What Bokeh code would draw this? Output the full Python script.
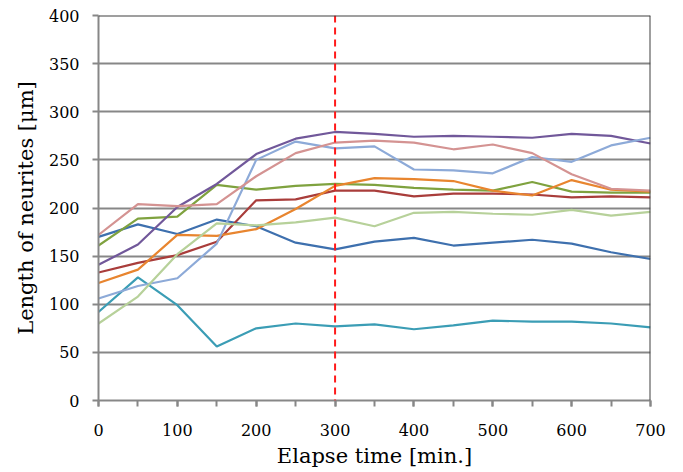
from bokeh.plotting import figure
from bokeh.models import Range1d, FixedTicker, Span
from bokeh.embed import file_html
from bokeh.resources import INLINE

time_min = [0, 50, 100, 150, 200, 250, 300, 350, 400, 450, 500, 550, 600, 650, 700]

s_blue = [170, 183, 173, 188, 181, 164, 157, 165, 169, 161, 164, 167, 163, 154, 147]
s_red = [133, 143, 151, 165, 208, 209, 218, 218, 212, 215, 215, 214, 211, 212, 211]
s_green = [161, 189, 191, 224, 219, 223, 225, 224, 221, 219, 218, 227, 217, 216, 216]
s_purple = [141, 162, 201, 225, 256, 272, 279, 277, 274, 275, 274, 273, 277, 275, 267]
s_teal = [92, 128, 99, 56, 75, 80, 77, 79, 74, 78, 83, 82, 82, 80, 76]
s_orange = [122, 136, 172, 171, 178, 199, 223, 231, 230, 228, 218, 213, 229, 219, 217]
s_lblue = [106, 119, 127, 163, 250, 269, 262, 264, 240, 239, 236, 253, 248, 265, 273]
s_pink = [172, 204, 202, 204, 233, 257, 268, 270, 268, 261, 266, 257, 235, 220, 218]
s_lgreen = [80, 108, 152, 184, 182, 185, 190, 181, 195, 196, 194, 193, 198, 192, 196]

series = [
    (s_blue, "#3E70AE"),
    (s_red, "#A93D3B"),
    (s_green, "#7FA23F"),
    (s_purple, "#71589A"),
    (s_teal, "#3B9DB5"),
    (s_orange, "#E8852F"),
    (s_lblue, "#8DAAD8"),
    (s_pink, "#D49392"),
    (s_lgreen, "#B7D19A"),
]

marker_time = 300
x_tick_labels = [0, 100, 200, 300, 400, 500, 600, 700]
y_ticks = [0, 50, 100, 150, 200, 250, 300, 350, 400]

FONT = "DejaVu Serif"
GRID = "#878787"

p = figure(width=675, height=470, output_backend="svg", toolbar_location=None,
           x_range=Range1d(0, 700), y_range=Range1d(0, 400),
           min_border_left=98, min_border_right=25, min_border_top=15, min_border_bottom=70)
p.outline_line_color = None
p.background_fill_color = "white"

for ys, c in series:
    p.line(time_min, ys, line_color=c, line_width=2.2)

p.add_layout(Span(location=marker_time, dimension="height", line_color="#FF1A1A",
                  line_width=2, line_dash="7 5"))
p.add_layout(Span(location=400, dimension="width", line_color="#404040", line_width=2))
p.add_layout(Span(location=700, dimension="height", line_color="#404040", line_width=2))

p.xaxis.ticker = FixedTicker(ticks=x_tick_labels, minor_ticks=list(range(0, 701, 50)))
p.yaxis.ticker = FixedTicker(ticks=y_ticks, minor_ticks=[])
p.xgrid.grid_line_color = None
p.ygrid.grid_line_color = GRID
p.ygrid.grid_line_width = 2

for ax in (p.xaxis, p.yaxis):
    ax.axis_line_color = GRID
    ax.axis_line_width = 2
    ax.major_tick_line_color = GRID
    ax.major_tick_line_width = 2
    ax.minor_tick_line_color = GRID
    ax.minor_tick_line_width = 2
    ax.major_tick_in = 0
    ax.major_tick_out = 6
    ax.minor_tick_in = 0
    ax.minor_tick_out = 6
    ax.major_label_text_font = FONT
    ax.major_label_text_font_size = "16px"
    ax.major_label_text_color = "black"
    ax.axis_label_text_font = FONT
    ax.axis_label_text_font_size = "21px"
    ax.axis_label_text_font_style = "normal"
    ax.axis_label_text_color = "black"

p.yaxis.minor_tick_line_color = None
p.xaxis.axis_label = "Elapse time [min.]"
p.yaxis.axis_label = "Length of neurites [μm]"
p.xaxis.major_label_standoff = 17
p.yaxis.major_label_standoff = 13
p.xaxis.axis_label_standoff = 5
p.yaxis.axis_label_standoff = 8

open("out.html", "w").write(file_html(p, INLINE))
